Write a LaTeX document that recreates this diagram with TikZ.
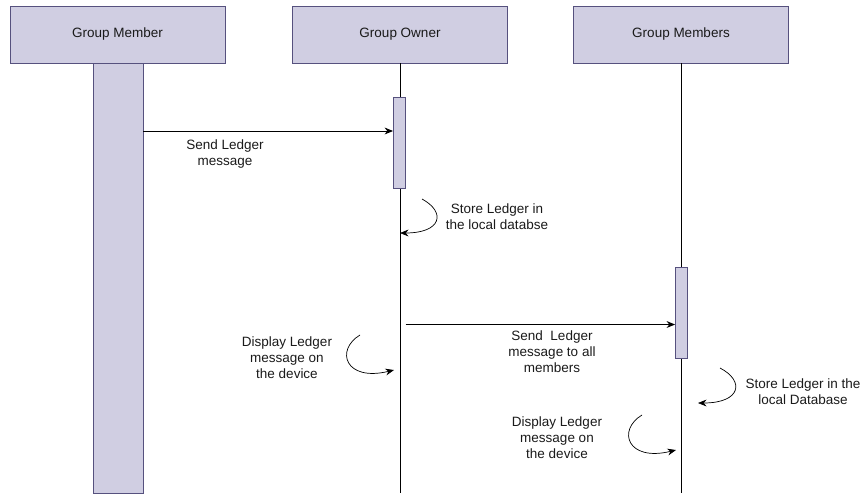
\documentclass[tikz,border=0pt]{standalone}
\usepackage{fontspec}
\setmainfont{Liberation Sans}
\usetikzlibrary{arrows.meta}
\definecolor{lanefill}{HTML}{D0CEE2}
\definecolor{laneline}{HTML}{56517E}
\definecolor{textgray}{HTML}{1A1A1A}

\begin{document}
\begin{tikzpicture}[x=1pt,y=-1pt,
    head/.style={rectangle,draw=laneline,fill=lanefill,line width=0.8pt,
        minimum width=215pt,minimum height=57pt,text=textgray,
        font=\fontsize{13.5}{16}\selectfont},
    actbar/.style={rectangle,draw=laneline,fill=lanefill,line width=0.8pt,inner sep=0pt},
    msg/.style={-{Stealth[length=3mm,width=2.4mm]},line width=0.9pt},
    selfmsg/.style={-{Stealth[length=3mm,width=2.4mm]},line width=0.7pt},
    note/.style={align=center,text=textgray,font=\fontsize{13.5}{16}\selectfont}]

\useasboundingbox (0,0) rectangle (866,493);

%Heads
\node (mhead) at (117.5,34.5) [head] {Group Member};
\node (ohead) at (400,34.5) [head] {Group Owner};
\node (shead) at (681,34.5) [head] {Group Members};

%Lifelines
\coordinate (oend) at (400,493);
\coordinate (send) at (681,493);
\draw[line width=0.9pt] (ohead.south) -- (oend);
\draw[line width=0.9pt] (shead.south) -- (send);

%Activation bars
\node (mbar) at (118,278) [actbar,minimum width=50pt,minimum height=430pt] {};
\node (obar) at (399.5,142.5) [actbar,minimum width=12pt,minimum height=91pt] {};
\node (sbar) at (681.5,312.5) [actbar,minimum width=12pt,minimum height=91pt] {};

%Messages
\coordinate (y1) at (0,131);
\coordinate (y2) at (0,324.5);
\draw[msg] (mbar.east |- y1) -- (obar.west |- y1);
\node (n1) at (225,154) [note] {Send Ledger\\message};

\coordinate (a2) at (405.5,324.5);
\draw[msg] (a2) -- (sbar.west |- y2);
\node (n2) at (552,352) [note] {Send~ Ledger\\message to all\\members};

%Self messages on the owner
\coordinate (c1s) at (422,199);
\coordinate (c1e) at (400,233);
\draw[selfmsg] (c1s) .. controls (446,212) and (442,233) .. (c1e);
\node (n3) at (497,216.5) [note] {Store Ledger in\\the local databse};

\coordinate (c2s) at (360,335);
\coordinate (c2e) at (394,370);
\draw[selfmsg] (c2s) .. controls (335,350) and (345,382) .. (c2e);
\node (n4) at (287,358) [note] {Display Ledger\\message on\\the device};

%Self messages on the members
\coordinate (c3s) at (720,368);
\coordinate (c3e) at (698,403);
\draw[selfmsg] (c3s) .. controls (745,381) and (741,403) .. (c3e);
\node (n5) at (803,391.5) [note] {Store Ledger in the\\local Database};

\coordinate (c4s) at (642,415);
\coordinate (c4e) at (676,450);
\draw[selfmsg] (c4s) .. controls (617,430) and (627,462) .. (c4e);
\node (n6) at (557,438) [note] {Display Ledger\\message on\\the device};

\end{tikzpicture}
\end{document}
